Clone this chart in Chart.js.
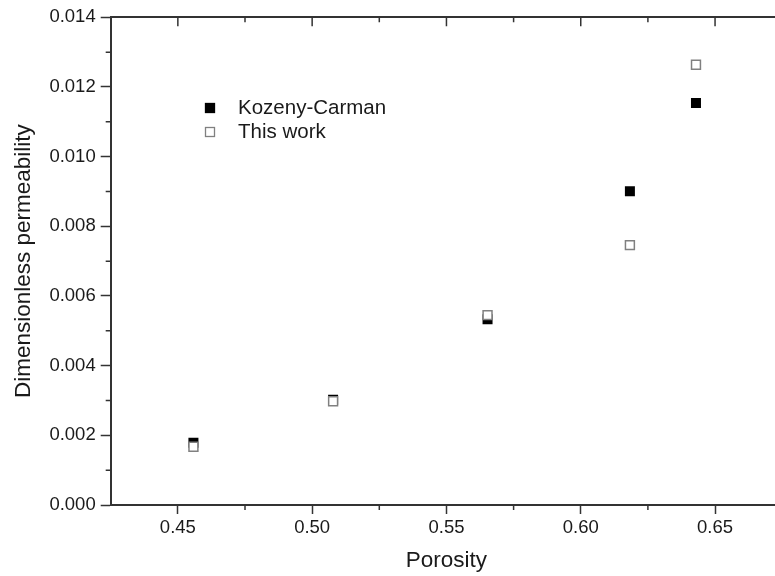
<!DOCTYPE html>
<html>
<head>
<meta charset="utf-8">
<script src="https://cdn.jsdelivr.net/npm/chart.js@4/dist/chart.umd.min.js"></script>
<style>
    html, body { margin: 0; padding: 0; background: #fff; overflow: hidden; }
    #wrap { width: 775px; height: 576px; overflow: hidden; position: relative; }
    canvas { display: block; }
</style>
</head>
<body>
<div id="wrap"><canvas id="chart" width="790" height="576"></canvas></div>
<script>
// porosity of each sample
const porosity = [0.4558, 0.5078, 0.5653, 0.6183, 0.6429];
// dimensionless permeability, Kozeny-Carman estimate vs. this work
const kozenyCarman = [0.00179, 0.00302, 0.00533, 0.00901, 0.01154];
const thisWork = [0.00167, 0.00298, 0.00545, 0.00746, 0.01264];

const xTicks = [0.45, 0.50, 0.55, 0.60, 0.65];
const xMinorTicks = [0.475, 0.525, 0.575, 0.625];
const yTicks = [0, 0.002, 0.004, 0.006, 0.008, 0.010, 0.012, 0.014];
const yMinorTicks = [0.001, 0.003, 0.005, 0.007, 0.009, 0.011, 0.013];

const AXIS_COLOR = "#333";
const TEXT_COLOR = "#1a1a1a";
const FONT = "'Liberation Sans', Arial, sans-serif";

const toPoints = ys => porosity.map((x, i) => ({ x, y: ys[i] }));

// minor ticks everywhere, plus the inward ticks of the top frame
const minorTicks = {
    id: "minorTicks",
    afterDraw(chart) {
        const { ctx, chartArea: area, scales: { x, y } } = chart;
        ctx.save();
        ctx.strokeStyle = AXIS_COLOR;
        ctx.lineWidth = 1.5;
        ctx.beginPath();
        xMinorTicks.forEach(v => {
            const px = x.getPixelForValue(v);
            ctx.moveTo(px, area.bottom);
            ctx.lineTo(px, area.bottom + 5);
            ctx.moveTo(px, area.top);
            ctx.lineTo(px, area.top + 5);
        });
        xTicks.forEach(v => {
            const px = x.getPixelForValue(v);
            ctx.moveTo(px, area.top);
            ctx.lineTo(px, area.top + 9);
        });
        yMinorTicks.forEach(v => {
            const py = y.getPixelForValue(v);
            ctx.moveTo(area.left, py);
            ctx.lineTo(area.left - 5, py);
        });
        ctx.stroke();
        ctx.restore();
    }
};

// legend placed inside the plot
const insideLegend = {
    id: "insideLegend",
    afterDraw(chart) {
        const { ctx } = chart;
        const items = [
            { label: "Kozeny-Carman", fill: "#000", stroke: "#000", y: 108 },
            { label: "This work", fill: "#fff", stroke: "#808080", y: 132 }
        ];
        ctx.save();
        ctx.font = `20.5px ${FONT}`;
        ctx.textBaseline = "middle";
        items.forEach(item => {
            ctx.fillStyle = item.fill;
            ctx.strokeStyle = item.stroke;
            ctx.lineWidth = 1.3;
            ctx.fillRect(205.5, item.y - 4.5, 9, 9);
            ctx.strokeRect(205.5, item.y - 4.5, 9, 9);
            ctx.fillStyle = TEXT_COLOR;
            ctx.fillText(item.label, 238, item.y);
        });
        ctx.restore();
    }
};

const tickFont = { family: FONT, size: 18.5 };
const titleFont = { family: FONT, size: 22.5 };

new Chart(document.getElementById("chart"), {
    type: "scatter",
    data: {
        datasets: [
            {
                label: "Kozeny-Carman",
                data: toPoints(kozenyCarman),
                pointStyle: "rect",
                pointRadius: 7.07,
                pointHoverRadius: 7.07,
                backgroundColor: "#000",
                borderColor: "#000",
                borderWidth: 0,
                order: 2
            },
            {
                label: "This work",
                data: toPoints(thisWork),
                pointStyle: "rect",
                pointRadius: 6.3,
                pointHoverRadius: 6.3,
                backgroundColor: "#fff",
                borderColor: "#808080",
                borderWidth: 1.5,
                order: 1
            }
        ]
    },
    options: {
        responsive: false,
        animation: false,
        devicePixelRatio: 1,
        layout: { padding: 0 },
        plugins: { legend: { display: false }, tooltip: { enabled: false } },
        scales: {
            x: {
                type: "linear",
                position: "bottom",
                min: 0.425,
                max: 0.675,
                afterBuildTicks: scale => { scale.ticks = xTicks.map(value => ({ value })); },
                afterFit: scale => { scale.height = 71; },
                ticks: { font: tickFont, color: TEXT_COLOR, padding: 3, callback: v => v.toFixed(2), maxRotation: 0 },
                grid: { drawOnChartArea: false, tickLength: 9, tickWidth: 1.5, tickColor: AXIS_COLOR },
                border: { color: AXIS_COLOR, width: 2 },
                title: { display: true, text: "Porosity", font: titleFont, color: TEXT_COLOR, padding: { top: 0, bottom: 2 } }
            },
            y: {
                type: "linear",
                position: "left",
                min: 0,
                max: 0.014,
                afterBuildTicks: scale => { scale.ticks = yTicks.map(value => ({ value })); },
                afterFit: scale => { scale.width = 110.7; },
                ticks: { font: tickFont, color: TEXT_COLOR, padding: 5, callback: v => v.toFixed(3) },
                grid: { drawOnChartArea: false, tickLength: 10, tickWidth: 1.5, tickColor: AXIS_COLOR },
                border: { color: AXIS_COLOR, width: 2 },
                title: { display: true, text: "Dimensionless permeability", font: titleFont, color: TEXT_COLOR, padding: { top: 10, bottom: 0 } }
            },
            xTop: {
                type: "linear",
                position: "top",
                afterFit: scale => { scale.height = 17.3; },
                ticks: { display: false },
                grid: { display: false, drawTicks: false },
                border: { color: AXIS_COLOR, width: 2 }
            },
            yRight: {
                type: "linear",
                position: "right",
                afterFit: scale => { scale.width = 6; },
                ticks: { display: false },
                grid: { display: false, drawTicks: false },
                border: { color: AXIS_COLOR, width: 2 }
            }
        }
    },
    plugins: [minorTicks, insideLegend]
});
</script>
</body>
</html>
